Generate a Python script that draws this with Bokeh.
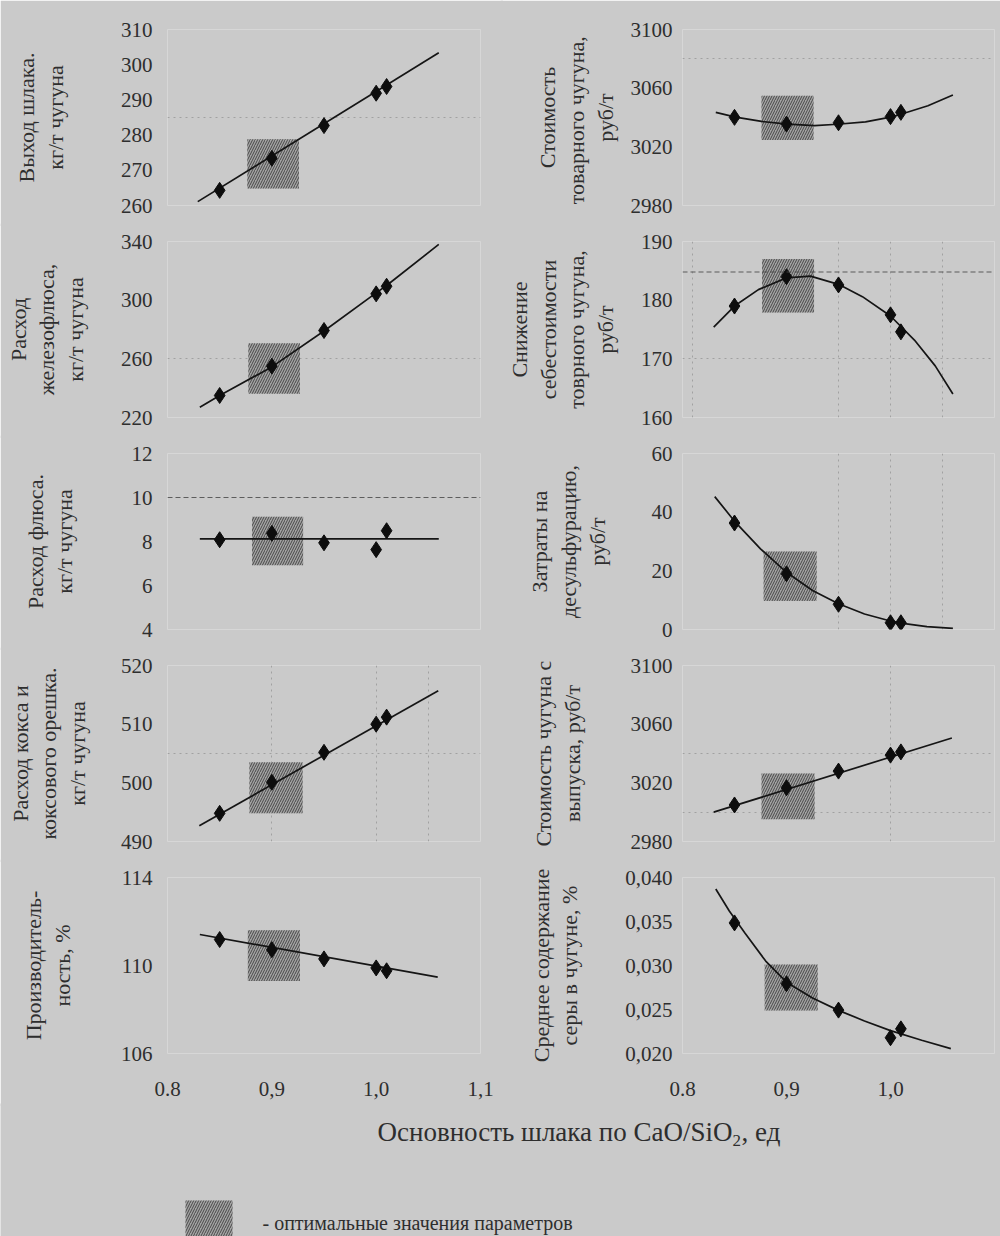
import re
from bokeh.plotting import figure
from bokeh.models import Range1d, FixedTicker, Grid, Span
from bokeh.layouts import row, column
from bokeh.embed import file_html
from bokeh.resources import INLINE
from bokeh.core.properties import value

# ---------------- data ----------------
basicity = [0.85, 0.90, 0.95, 1.00, 1.01]

# left column
slag_y = [264.3, 273.4, 282.7, 291.9, 293.8]
slag_fit_x = [0.829, 1.060]
slag_fit_y = [261.1, 303.4]
slag_opt = [0.8765, 0.926, 264.8, 278.8]

ironflux_y = [235.0, 255.0, 279.3, 304.3, 309.5]
ironflux_fit_x = [0.831, 0.85, 0.90, 0.95, 1.00, 1.01, 1.060]
ironflux_fit_y = [227.0, 235.0, 254.5, 279.0, 305.0, 310.0, 338.0]
ironflux_opt = [0.8775, 0.927, 236.2, 270.7]

flux_y = [8.08, 8.37, 7.94, 7.63, 8.49]
flux_fit_x = [0.831, 1.060]
flux_fit_y = [8.12, 8.12]
flux_opt = [0.881, 0.930, 6.92, 9.12]

coke_y = [494.8, 500.1, 505.2, 510.0, 511.2]
coke_fit_x = [0.8305, 1.0595]
coke_fit_y = [492.7, 515.7]
coke_opt = [0.8785, 0.9295, 494.8, 503.5]

prod_y = [111.18, 110.72, 110.30, 109.89, 109.76]
prod_fit_x = [0.831, 1.059]
prod_fit_y = [111.41, 109.47]
prod_opt = [0.877, 0.927, 109.3, 111.6]

# right column
price_y = [3040.1, 3035.5, 3036.4, 3040.6, 3043.5]
price_fit_x = [0.832, 0.851, 0.876, 0.901, 0.927, 0.949, 0.976, 1.000, 1.010, 1.036, 1.060]
price_fit_y = [3043.5, 3040.3, 3037.3, 3035.5, 3034.5, 3035.4, 3037.0, 3040.3, 3042.2, 3048.0, 3055.4]
price_opt = [0.876, 0.926, 3024.6, 3054.8]

saving_y = [179.0, 184.0, 182.6, 177.5, 174.6]
saving_fit_x = [0.830, 0.850, 0.873, 0.900, 0.923, 0.950, 0.973, 1.000, 1.023, 1.043, 1.060]
saving_fit_y = [175.4, 179.0, 181.8, 183.8, 184.1, 182.7, 180.6, 177.3, 173.2, 168.8, 164.0]
saving_opt = [0.8765, 0.9265, 177.9, 187.0]
saving_max = 184.8

desulf_y = [36.3, 19.0, 8.6, 2.3, 2.3]
desulf_fit_x = [0.831, 0.851, 0.875, 0.900, 0.925, 0.950, 0.975, 0.999, 1.010, 1.035, 1.060]
desulf_fit_y = [45.3, 36.5, 27.5, 19.5, 13.3, 8.8, 5.3, 3.0, 2.2, 1.0, 0.4]
desulf_opt = [0.878, 0.929, 9.7, 26.6]

tap_y = [3004.9, 3016.7, 3028.0, 3038.9, 3041.1]
tap_fit_x = [0.830, 1.059]
tap_fit_y = [3000.0, 3050.6]
tap_opt = [0.876, 0.927, 2995.1, 3026.4]

sulfur_y = [0.03484, 0.02793, 0.02493, 0.02179, 0.02280]
sulfur_fit_x = [0.832, 0.845, 0.86, 0.88, 0.90, 0.925, 0.95, 0.975, 1.0, 1.03, 1.058]
sulfur_fit_y = [0.0387, 0.0362, 0.0337, 0.0305, 0.0281, 0.0263, 0.0249, 0.0237, 0.0226, 0.0215, 0.02056]
sulfur_opt = [0.879, 0.930, 0.0249, 0.0301]

x_ticks_left = [0.8, 0.9, 1.0, 1.1]
x_ticks_right = [0.8, 0.9, 1.0]
x_tick_labels = {0.8: "0.8", 0.9: "0,9", 1.0: "1,0", 1.1: "1,1"}
sulfur_ticks = [0.020, 0.025, 0.030, 0.035, 0.040]
sulfur_tick_labels = {0.020: "0,020", 0.025: "0,025", 0.030: "0,030", 0.035: "0,035", 0.040: "0,040"}

x_title = "Основность шлака по CaO/SiO"
x_title_sub = "2"
x_title_end = ", ед"
legend_text = "- оптимальные значения параметров"

# ---------------- styling ----------------
BG = "#cacaca"
INK = "#2e2e2e"
SERIF = "Liberation Serif"
AXFONT = "'Liberation Serif'"
HATCH = dict(fill_color="#a4a4a4", fill_alpha=1.0, line_color=None,
             hatch_pattern="/", hatch_color="#484848", hatch_scale=5, hatch_weight=1.0)
OV = 3  # overlap used to hide the seams between neighbouring canvases


def make_panel(left_side, label, yr, yticks, xs, ys, fx, fy, box, standoff,
               hgrid=(), vgrid=(), ylabels=None, bottom=False, first=False, extra_line=None):
    bl = 167 if left_side else 182
    br = (20 + OV) if left_side else 6
    fw = 313 if left_side else 312
    bt = 29 if first else 18
    bb = (50 if bottom else 18) + OV
    p = figure(width=bl + fw + br, height=bt + 176 + bb,
               x_range=Range1d(0.8, 1.1), y_range=Range1d(*yr),
               output_backend="svg", toolbar_location=None,
               x_axis_location="below" if bottom else None,
               min_border_left=bl, min_border_right=br,
               min_border_top=bt, min_border_bottom=bb,
               margin=(0, 0, -OV, 0))
    p.background_fill_color = BG
    p.border_fill_color = BG
    p.outline_line_color = None
    p.grid.visible = False

    if hgrid:
        p.add_layout(Grid(dimension=1, ticker=FixedTicker(ticks=list(hgrid)),
                          grid_line_color="#6f6f6f", grid_line_alpha=0.45,
                          grid_line_dash="2 4", grid_line_width=1))
    if vgrid:
        p.add_layout(Grid(dimension=0, ticker=FixedTicker(ticks=list(vgrid)),
                          grid_line_color="#6f6f6f", grid_line_alpha=0.45,
                          grid_line_dash="2 4", grid_line_width=1))
    if extra_line is not None:
        p.add_layout(Span(location=extra_line, dimension="width", line_color="#4a4a4a",
                          line_dash="5 3", line_width=1.1, line_alpha=0.85))

    p.quad(left=[box[0]], right=[box[1]], bottom=[box[2]], top=[box[3]], **HATCH)
    p.line(fx, fy, line_color="#151515", line_width=1.7)
    p.scatter(xs, ys, marker="diamond", size=16, color="#0d0d0d")

    ax = p.yaxis[0]
    ax.ticker = FixedTicker(ticks=list(yticks))
    if ylabels:
        ax.major_label_overrides = ylabels
    ax.axis_line_color = None
    ax.major_tick_line_color = None
    ax.minor_tick_line_color = None
    ax.major_tick_out = 0
    ax.major_tick_in = 0
    ax.major_label_standoff = 15 if left_side else 10
    ax.major_label_text_font = AXFONT
    ax.major_label_text_font_size = "21px"
    ax.major_label_text_color = INK
    ax.axis_label = label
    ax.axis_label_standoff = standoff
    ax.axis_label_text_font = AXFONT
    ax.axis_label_text_font_size = "22px"
    ax.axis_label_text_font_style = "normal"
    ax.axis_label_text_color = INK
    ax.axis_label_text_line_height = 1.15

    if bottom:
        xa = p.xaxis[0]
        xa.ticker = FixedTicker(ticks=x_ticks_left if left_side else x_ticks_right)
        xa.major_label_overrides = x_tick_labels
        xa.axis_line_color = None
        xa.major_tick_line_color = None
        xa.minor_tick_line_color = None
        xa.major_tick_out = 0
        xa.major_tick_in = 0
        xa.major_label_standoff = 28
        xa.major_label_text_font = AXFONT
        xa.major_label_text_font_size = "21px"
        xa.major_label_text_color = INK
    return p


L1 = make_panel(True, "Выход шлака.\nкг/т чугуна", (260, 310), [260, 270, 280, 290, 300, 310],
                basicity, slag_y, slag_fit_x, slag_fit_y, slag_opt, 50, hgrid=[285], first=True)
L2 = make_panel(True, "Расход\nжелезофлюса,\nкг/т чугуна", (220, 340), [220, 260, 300, 340],
                basicity, ironflux_y, ironflux_fit_x, ironflux_fit_y, ironflux_opt, 30, hgrid=[220, 260])
L3 = make_panel(True, "Расход флюса.\nкг/т чугуна", (4, 12), [4, 6, 8, 10, 12],
                basicity, flux_y, flux_fit_x, flux_fit_y, flux_opt, 52, extra_line=10)
L4 = make_panel(True, "Расход кокса и\nкоксового орешка.\nкг/т чугуна", (490, 520), [490, 500, 510, 520],
                basicity, coke_y, coke_fit_x, coke_fit_y, coke_opt, 28, hgrid=[505], vgrid=[0.9, 1.0, 1.05])
L5 = make_panel(True, "Производитель-\nность, %", (106, 114), [106, 110, 114],
                basicity, prod_y, prod_fit_x, prod_fit_y, prod_opt, 43, bottom=True)

R1 = make_panel(False, "Стоимость\nтоварного  чугуна,\nруб/т", (2980, 3100), [2980, 3020, 3060, 3100],
                basicity, price_y, price_fit_x, price_fit_y, price_opt, 10, hgrid=[3080], first=True)
R2 = make_panel(False, "Снижение\nсебестоимости\nтоврного чугуна,\nруб/т", (160, 190), [160, 170, 180, 190],
                basicity, saving_y, saving_fit_x, saving_fit_y, saving_opt, 20,
                hgrid=[160, 170], vgrid=[0.81, 0.95, 1.0, 1.05], extra_line=saving_max)
R3 = make_panel(False, "Затраты на\nдесульфурацию,\nруб/т", (0, 60), [0, 20, 40, 60],
                basicity, desulf_y, desulf_fit_x, desulf_fit_y, desulf_opt, 39, vgrid=[0.95, 1.0, 1.05])
R4 = make_panel(False, "Стоимость чугуна с\nвыпуска, руб/т", (2980, 3100), [2980, 3020, 3060, 3100],
                basicity, tap_y, tap_fit_x, tap_fit_y, tap_opt, 43, hgrid=[3000, 3040], vgrid=[1.0])
R5 = make_panel(False, "Среднее содержание\nсеры в чугуне, %", (0.020, 0.040), sulfur_ticks,
                basicity, sulfur_y, sulfur_fit_x, sulfur_fit_y, sulfur_opt, 40,
                ylabels=sulfur_tick_labels, bottom=True)

# ---------------- footer: common x title and legend ----------------
FW, FH = 1000, 133
foot = figure(width=FW, height=FH, x_range=Range1d(0, FW), y_range=Range1d(FH, 0),
              output_backend="svg", toolbar_location=None,
              x_axis_location=None, y_axis_location=None, min_border=0)
foot.background_fill_color = BG
foot.border_fill_color = BG
foot.outline_line_color = None
foot.grid.visible = False
foot.text(x=[732], y=[28], text=[x_title], text_font=value(SERIF), text_font_size="27px",
          text_align="right", text_baseline="middle", text_color=INK)
foot.text(x=[732], y=[37], text=[x_title_sub], text_font=value(SERIF), text_font_size="17px",
          text_align="left", text_baseline="middle", text_color=INK)
foot.text(x=[741], y=[28], text=[x_title_end], text_font=value(SERIF), text_font_size="27px",
          text_align="left", text_baseline="middle", text_color=INK)
foot.quad(left=[185], right=[232], top=[97], bottom=[133], **HATCH)
foot.text(x=[262], y=[119], text=[legend_text], text_font=value(SERIF), text_font_size="20px",
          text_align="left", text_baseline="middle", text_color=INK)

left_col = column(L1, L2, L3, L4, L5, margin=(0, -OV, 0, 0))
right_col = column(R1, R2, R3, R4, R5)
layout = column(row(left_col, right_col), foot)

html = file_html(layout, INLINE)
html = re.sub(r"<body([^>]*)>", r'<body\1 style="background-color:%s;">' % BG, html, count=1)
open("out.html", "w").write(html)
